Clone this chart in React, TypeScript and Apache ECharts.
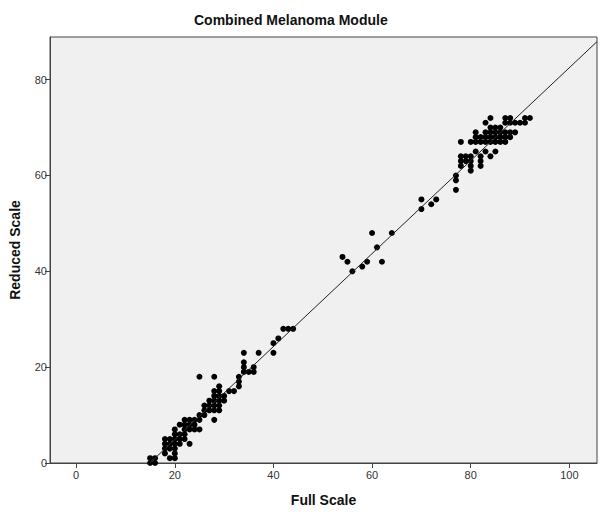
import React, { useEffect, useRef } from "react";
import * as echarts from "echarts";

const titleText = "Combined Melanoma Module";
const xName = "Full Scale";
const yName = "Reduced Scale";
const xTicks = [0, 20, 40, 60, 80, 100];
const yTicks = [0, 20, 40, 60, 80];

const fullScale = [
  15, 16, 15, 16, 19, 20, 18, 20, 18, 19, 20, 18, 19, 20, 21, 23, 18, 19, 20, 21, 22,
  20, 21, 22, 20, 22, 23, 24, 25, 21, 22, 23, 24, 22, 23, 24, 25, 28, 25, 26,
  26, 27, 28, 29, 26, 27, 28, 29, 27, 28, 29, 30, 28, 29, 30, 28, 29, 31, 32,
  29, 33, 33, 25, 28, 33, 34, 35, 36, 34, 36, 34, 34, 37, 40, 40, 41, 42, 43, 44,
  54, 55, 56, 58, 59, 60, 61, 62, 64,
  70, 70, 72, 73,
  77, 77, 77, 78, 78, 78, 78, 79, 79, 80, 80, 80, 80, 80, 81, 81, 81, 81, 82, 82, 82, 82, 82,
  83, 83, 83, 83, 83, 84, 84, 84, 84, 84, 84, 85, 85, 85, 85, 85, 86, 86, 86, 86,
  87, 87, 87, 87, 87, 88, 88, 88, 88, 89, 89, 90, 91, 91, 92,
];
const reducedScale = [
  0, 0, 1, 1, 1, 1, 2, 2, 3, 3, 3, 4, 4, 4, 4, 4, 5, 5, 5, 5, 5,
  6, 6, 6, 7, 7, 7, 7, 7, 8, 8, 8, 8, 9, 9, 9, 9, 9, 10, 10,
  11, 11, 11, 11, 12, 12, 12, 12, 13, 13, 13, 13, 14, 14, 14, 15, 15, 15, 15,
  16, 16, 17, 18, 18, 18, 19, 19, 19, 20, 20, 21, 23, 23, 23, 25, 26, 28, 28, 28,
  43, 42, 40, 41, 42, 48, 45, 42, 48,
  53, 55, 54, 55,
  57, 59, 60, 62, 63, 64, 67, 63, 64, 61, 62, 63, 64, 67, 65, 67, 68, 69, 62, 63, 64, 67, 68,
  65, 67, 68, 69, 71, 64, 67, 68, 69, 70, 72, 65, 67, 68, 69, 70, 67, 68, 69, 70,
  67, 68, 69, 71, 72, 68, 69, 71, 72, 69, 71, 71, 71, 72, 72,
];

const fitSlope = 0.97;
const fitIntercept = -14.5;
const xMin = -5.3;
const xMax = 105.6;
const yMin = 0;
const yMax = 88.9;

export default function App() {
  const ref = useRef<HTMLDivElement>(null);
  useEffect(() => {
    if (!ref.current) return;
    const chart = echarts.init(ref.current, null, { renderer: "svg" });
    const points = fullScale.map((x, i) => [x, reducedScale[i]]);
    const x0 = -fitIntercept / fitSlope;
    const lineData = [
      [x0, fitSlope * x0 + fitIntercept],
      [xMax, fitSlope * xMax + fitIntercept],
    ];
    const font = "'Liberation Sans', Arial, sans-serif";
    chart.setOption({
      animation: false,
      backgroundColor: "#ffffff",
      title: {
        text: titleText,
        left: 189,
        top: 8,
        textStyle: { fontFamily: font, fontSize: 14, fontWeight: "bold", color: "#111" },
      },
      grid: {
        left: 49,
        right: 5,
        top: 37,
        bottom: 49,
        show: true,
        backgroundColor: "#f0f0f0",
        borderColor: "#444",
        borderWidth: 1,
      },
      xAxis: {
        type: "value",
        min: xMin,
        max: xMax,
        name: xName,
        nameLocation: "middle",
        nameGap: 30,
        nameTextStyle: { fontFamily: font, fontSize: 14, fontWeight: "bold", color: "#111" },
        axisLine: { show: true, onZero: false, lineStyle: { color: "#444", width: 1 } },
        axisTick: { show: true, length: 5, lineStyle: { color: "#444" }, customValues: xTicks },
        axisLabel: { fontFamily: font, fontSize: 11, color: "#333", margin: 6, customValues: xTicks },
        splitLine: { show: false },
      },
      yAxis: {
        type: "value",
        min: yMin,
        max: yMax,
        name: yName,
        nameLocation: "middle",
        nameGap: 28,
        nameRotate: 90,
        nameTextStyle: { fontFamily: font, fontSize: 14, fontWeight: "bold", color: "#111" },
        axisLine: { show: true, onZero: false, lineStyle: { color: "#444", width: 1 } },
        axisTick: { show: true, length: 5, lineStyle: { color: "#444" }, customValues: yTicks },
        axisLabel: { fontFamily: font, fontSize: 11, color: "#333", margin: 3, customValues: yTicks },
        splitLine: { show: false },
      },
      series: [
        {
          type: "scatter",
          data: points,
          symbolSize: 6,
          itemStyle: { color: "#000", opacity: 1 },
          z: 2,
        },
        {
          type: "line",
          data: lineData,
          symbol: "none",
          lineStyle: { color: "#222", width: 1 },
          clip: true,
          z: 3,
        },
      ],
    });
    return () => chart.dispose();
  }, []);
  return <div ref={ref} style={{ width: 602, height: 512, position: "absolute", left: 0, top: 0 }} />;
}
